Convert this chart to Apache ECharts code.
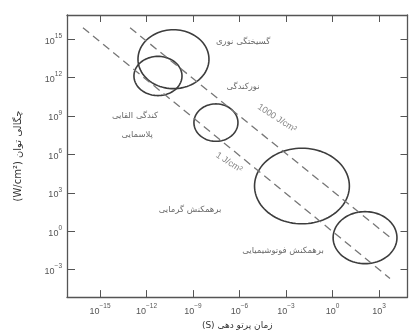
<!DOCTYPE html>
<html>
<head>
<meta charset="utf-8">
<script src="https://cdn.jsdelivr.net/npm/echarts@6/dist/echarts.min.js"></script>
<style>
  html, body { margin: 0; padding: 0; background: #fff; }
  #chart { width: 409px; height: 335px; }
</style>
</head>
<body>
<div id="chart"></div>
<script>
// Axes are in decades: value v stands for 10^v
const xTicks = [-15, -12, -9, -6, -3, 0, 3];
const yTicks = [-3, 0, 3, 6, 9, 12, 15];

// Interaction regions: [log10 time centre, log10 power centre, half-width (decades), half-height (decades)]
const regionNames = ['گسیختگی نوری', 'نورکندگی', 'کندگی القایی پلاسمایی', 'برهمکنش گرمایی', 'برهمکنش فوتوشیمیایی'];
const regionEllipses = [
  [-10.26, 13.43, 2.29, 2.30],
  [-11.26, 12.12, 1.55, 1.53],
  [-7.52, 8.48, 1.42, 1.46],
  [-1.97, 3.53, 3.06, 2.95],
  [2.10, -0.50, 2.06, 2.03]
];

// Constant-fluence lines (end points in decades)
const fluence1000 = [[-13.06, 15.88], [3.84, -0.60]];
const fluence1 = [[-16.10, 15.88], [3.71, -3.68]];

// Text placed inside the plot: [x, y, text, rotation in degrees]
const plotTexts = [
  [-5.77, 14.80, 'گسیختگی نوری', 0],
  [-5.77, 11.28, 'نورکندگی', 0],
  [-12.74, 9.05, 'کندگی القایی', 0],
  [-12.60, 7.52, 'پلاسمایی', 0],
  [-9.19, 1.69, 'برهمکنش گرمایی', 0],
  [-3.19, -1.53, 'برهمکنش فوتوشیمیایی', 0]
];
const fluenceTexts = [
  [-3.58, 8.82, '1000 J/cm²', -33],
  [-6.68, 5.37, '1 J/cm²', -33]
];

const xRange = [-17.13, 4.84];
const yRange = [-5.14, 16.88];

const persianFont = '"DejaVu Sans", sans-serif';
const inkColor = '#444';

function powerLabel(v) {
  const e = String(v).replace('-', '\u2212');
  return '{b|10}{s|' + e + '}';
}
const labelRich = {
  b: { fontSize: 9, color: '#555', fontFamily: 'Arial, sans-serif', verticalAlign: 'bottom' },
  s: { fontSize: 6.5, color: '#555', fontFamily: 'Arial, sans-serif', verticalAlign: 'top', padding: [0, 0, 6, 0] }
};

const chart = echarts.init(document.getElementById('chart'), null, { renderer: 'canvas' });

function ellipseItem(params, api) {
  const cx = api.value(0), cy = api.value(1), rx = api.value(2), ry = api.value(3);
  const pts = [];
  for (let i = 0; i < 96; i++) {
    const t = (i / 96) * Math.PI * 2;
    pts.push(api.coord([cx + rx * Math.cos(t), cy + ry * Math.sin(t)]));
  }
  return {
    type: 'polygon',
    shape: { points: pts },
    style: { fill: 'none', stroke: '#3d3d3d', lineWidth: 1.6 }
  };
}

const axisLineStyle = { color: '#555', width: 1.3 };

chart.setOption({
  animation: false,
  backgroundColor: '#fff',
  grid: { left: 67, right: 1.5, top: 15, bottom: 33, containLabel: false },
  xAxis: [{
    type: 'value', min: xRange[0], max: xRange[1],
    axisLine: { show: true, onZero: false, lineStyle: axisLineStyle },
    axisTick: { show: true, inside: true, length: 7, customValues: xTicks, lineStyle: { color: '#555', width: 1 } },
    axisLabel: { customValues: xTicks, formatter: powerLabel, rich: labelRich, margin: 6 },
    splitLine: { show: false },
    name: '(S) زمان پرتو دهی',
    nameLocation: 'middle', nameGap: 22,
    nameTextStyle: { fontSize: 9, color: '#333', fontFamily: persianFont }
  }, {
    type: 'value', position: 'top', min: xRange[0], max: xRange[1],
    axisLine: { show: true, onZero: false, lineStyle: axisLineStyle },
    axisTick: { show: true, inside: true, length: 7, customValues: xTicks, lineStyle: { color: '#555', width: 1 } },
    axisLabel: { show: false },
    splitLine: { show: false }
  }],
  yAxis: [{
    type: 'value', min: yRange[0], max: yRange[1],
    axisLine: { show: true, onZero: false, lineStyle: axisLineStyle },
    axisTick: { show: true, inside: true, length: 8, customValues: yTicks, lineStyle: { color: '#555', width: 1 } },
    axisLabel: { customValues: yTicks, formatter: powerLabel, rich: labelRich, margin: 5 },
    splitLine: { show: false },
    name: '(W/cm²) چگالی توان',
    nameLocation: 'middle', nameGap: 44, nameRotate: 90,
    nameTextStyle: { fontSize: 10, color: '#333', fontFamily: persianFont }
  }, {
    type: 'value', position: 'right', min: yRange[0], max: yRange[1],
    axisLine: { show: true, onZero: false, lineStyle: axisLineStyle },
    axisTick: { show: true, inside: true, length: 7, customValues: yTicks, lineStyle: { color: '#555', width: 1 } },
    axisLabel: { show: false },
    splitLine: { show: false }
  }],
  series: [
    {
      type: 'line', data: fluence1000, symbol: 'none', silent: true,
      lineStyle: { color: '#777', width: 1.3, type: [8, 5] }
    },
    {
      type: 'line', data: fluence1, symbol: 'none', silent: true,
      lineStyle: { color: '#777', width: 1.3, type: [8, 5] }
    },
    {
      type: 'custom', data: regionEllipses, renderItem: ellipseItem, silent: true, clip: true,
      names: regionNames
    },
    {
      type: 'scatter', symbolSize: 0, silent: true,
      data: plotTexts.map(t => ({ value: [t[0], t[1]], text: t[2] })),
      label: {
        show: true, position: 'inside',
        formatter: p => p.data.text,
        fontSize: 8.5, color: inkColor, fontFamily: persianFont
      }
    },
    {
      type: 'scatter', symbolSize: 0, silent: true,
      data: fluenceTexts.map(t => ({ value: [t[0], t[1]], text: t[2], label: { rotate: t[3] } })),
      label: {
        show: true, position: 'inside',
        formatter: p => p.data.text,
        fontSize: 9, color: '#666', fontFamily: 'Arial, sans-serif'
      }
    }
  ]
});
</script>
</body>
</html>
